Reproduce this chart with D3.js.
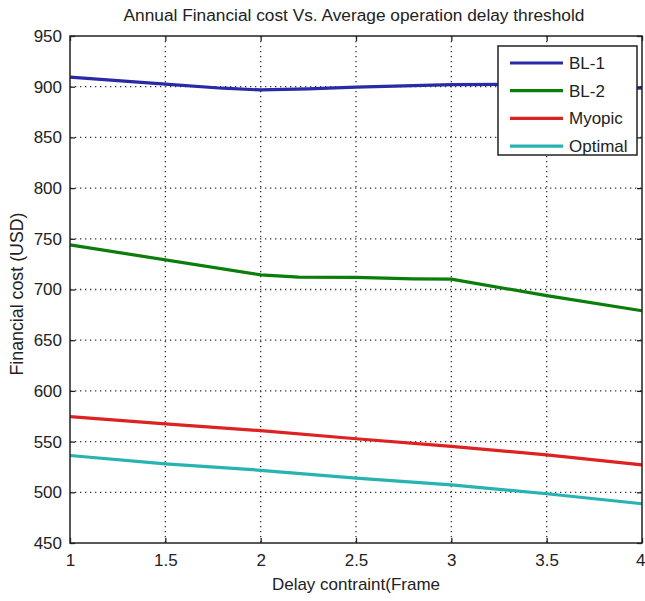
<!DOCTYPE html>
<html>
<head>
<meta charset="utf-8">
<script src="https://cdn.jsdelivr.net/npm/d3@7"></script>
<style>
  body { margin: 0; background: #fff; }
  text { font-family: "Liberation Sans", Arial, sans-serif; fill: #222; }
</style>
</head>
<body>
<svg id="chart" width="645" height="601"></svg>
<script>
// Data
var bl1X = [1, 1.5, 1.8, 2, 2.25, 2.5, 3, 3.3, 4];
var bl1Y = [909.5, 902.5, 898.5, 896.8, 897.8, 899.5, 902, 902.3, 898.5];
var bl2X = [1, 2, 2.2, 2.5, 2.8, 3, 3.5, 4];
var bl2Y = [744, 714.5, 712.3, 712, 710.5, 710.2, 694, 679];
var myopicX = [1, 1.5, 2, 2.5, 3, 3.5, 4];
var myopicY = [574.7, 567.5, 560.8, 552.8, 545.2, 537, 527];
var optimalX = [1, 1.5, 2, 2.5, 3, 3.5, 4];
var optimalY = [536.3, 528.1, 521.7, 514, 507.4, 498.6, 488.7];

var seriesNames = ["BL-1", "BL-2", "Myopic", "Optimal"];
var seriesColors = ["#2a2aa6", "#0b7d0b", "#dd2222", "#27b3b0"];
var xTicks = [1, 1.5, 2, 2.5, 3, 3.5, 4];
var yTicks = [450, 500, 550, 600, 650, 700, 750, 800, 850, 900, 950];

var svg = d3.select("#chart");
// plot box
var marginLeft = 70;
var marginRight = 3;
var marginTop = 36;
var marginBottom = 58;
var w = 645, h = 601;
var innerW = w - marginLeft - marginRight;
var innerH = h - marginTop - marginBottom;

var xScale = d3.scaleLinear().domain([1, 4]).range([marginLeft, marginLeft + innerW]);
var yScale = d3.scaleLinear().domain([450, 950]).range([marginTop + innerH, marginTop]);

// dotted grid
svg.selectAll(".vgrid")
   .data(xTicks.slice(1, -1))
   .enter()
   .append("line")
   .attr("x1", function(d) { return xScale(d); })
   .attr("x2", function(d) { return xScale(d); })
   .attr("y1", marginTop)
   .attr("y2", marginTop + innerH)
   .attr("stroke", "#333")
   .attr("stroke-width", 1.3)
   .attr("stroke-dasharray", "1.3,3.7");

svg.selectAll(".hgrid")
   .data(yTicks.slice(1, -1))
   .enter()
   .append("line")
   .attr("x1", marginLeft)
   .attr("x2", marginLeft + innerW)
   .attr("y1", function(d) { return yScale(d); })
   .attr("y2", function(d) { return yScale(d); })
   .attr("stroke", "#333")
   .attr("stroke-width", 1.3)
   .attr("stroke-dasharray", "1.3,3.7");

// lines
var allSeries = [
  { x: bl1X, y: bl1Y },
  { x: bl2X, y: bl2Y },
  { x: myopicX, y: myopicY },
  { x: optimalX, y: optimalY }
];
var line = d3.line()
  .x(function(d) { return xScale(d[0]); })
  .y(function(d) { return yScale(d[1]); });

allSeries.forEach(function(s, i) {
  var pts = s.x.map(function(v, j) { return [v, s.y[j]]; });
  svg.append("path")
     .datum(pts)
     .attr("d", line)
     .attr("fill", "none")
     .attr("stroke", seriesColors[i])
     .attr("stroke-width", 3.2);
});

// axes - ticks inside, on all four sides like matlab box
var tickLen = 5;
var xAxisB = d3.axisBottom(xScale).tickValues(xTicks).tickSize(-tickLen).tickPadding(11)
  .tickFormat(d3.format("~g"));
var xAxisT = d3.axisTop(xScale).tickValues(xTicks).tickSize(-tickLen).tickFormat("");
var yAxisL = d3.axisLeft(yScale).tickValues(yTicks).tickSize(-tickLen).tickPadding(8);
var yAxisR = d3.axisRight(yScale).tickValues(yTicks).tickSize(-tickLen).tickFormat("");

function styleAxis(g) {
  g.select(".domain").remove();
  g.selectAll(".tick line").attr("stroke", "#222").attr("stroke-width", 1.3);
  g.selectAll(".tick text").attr("font-size", 17).attr("fill", "#222")
   .attr("font-family", null);
}

var gx = svg.append("g").attr("transform", "translate(0," + (marginTop + innerH) + ")").call(xAxisB).call(styleAxis);
// last label sits at the right edge of the figure, keep it inside
gx.selectAll(".tick text").filter(function(d) { return d === 4; })
  .attr("text-anchor", "end").attr("x", 3);
svg.append("g").attr("transform", "translate(0," + marginTop + ")").call(xAxisT).call(styleAxis);
svg.append("g").attr("transform", "translate(" + marginLeft + ",0)").call(yAxisL).call(styleAxis);
svg.append("g").attr("transform", "translate(" + (marginLeft + innerW) + ",0)").call(yAxisR).call(styleAxis);

// box
svg.append("rect")
   .attr("x", marginLeft)
   .attr("y", marginTop)
   .attr("width", innerW)
   .attr("height", innerH)
   .attr("fill", "none")
   .attr("stroke", "#222")
   .attr("stroke-width", 1.5);

// legend
var lgX = 498, lgY = 46, lgW = 139, lgH = 109;
var legend = svg.append("g");
legend.append("rect")
   .attr("x", lgX).attr("y", lgY).attr("width", lgW).attr("height", lgH)
   .attr("fill", "#fff").attr("stroke", "#222").attr("stroke-width", 1.5);
var lgItems = legend.selectAll(".lg")
   .data(seriesNames)
   .enter()
   .append("g")
   .attr("transform", function(d, i) { return "translate(0," + (lgY + 17 + i * 27.7) + ")"; });
lgItems.append("line")
   .attr("x1", lgX + 12).attr("x2", lgX + 65)
   .attr("y1", 0).attr("y2", 0)
   .attr("stroke", function(d, i) { return seriesColors[i]; })
   .attr("stroke-width", 3.2);
lgItems.append("text")
   .attr("x", lgX + 71)
   .attr("y", 6)
   .attr("font-size", 17)
   .text(function(d) { return d; });

// title and axis labels
svg.append("text")
   .attr("x", 354)
   .attr("y", 21)
   .attr("text-anchor", "middle")
   .attr("font-size", 17.3)
   .text("Annual Financial cost Vs. Average operation delay threshold");

svg.append("text")
   .attr("x", marginLeft + innerW / 2)
   .attr("y", 590)
   .attr("text-anchor", "middle")
   .attr("font-size", 17)
   .text("Delay contraint(Frame");

svg.append("text")
   .attr("transform", "translate(23,294) rotate(-90)")
   .attr("text-anchor", "middle")
   .attr("font-size", 17.8)
   .text("Financial cost (USD)");
</script>
</body>
</html>
